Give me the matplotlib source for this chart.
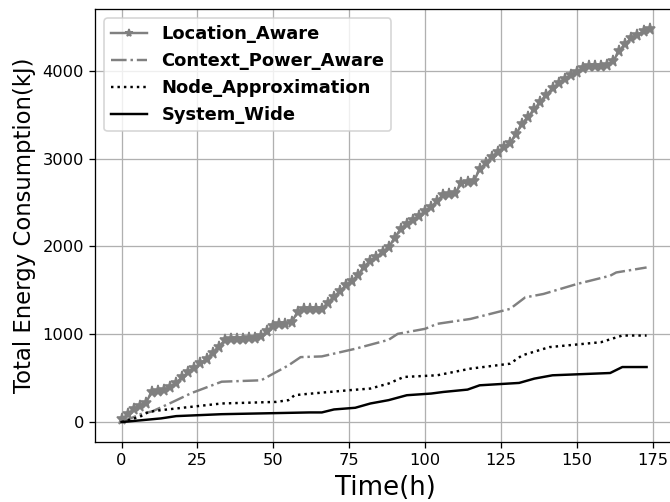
import numpy as np
import matplotlib.pyplot as plt

# Location_Aware, read every 2 hours
t_loc = np.arange(0, 176, 2)
e_loc = [30, 90, 150, 185, 220, 345, 350, 360, 400, 450,
         510, 570, 620, 670, 720, 790, 860, 930, 945, 950,
         950, 955, 960, 975, 1040, 1100, 1120, 1120, 1140, 1250,
         1290, 1290, 1290, 1290, 1360, 1430, 1490, 1560, 1610, 1680,
         1770, 1840, 1880, 1940, 1990, 2100, 2200, 2260, 2300, 2350,
         2400, 2450, 2520, 2590, 2600, 2610, 2720, 2730, 2740, 2880,
         2950, 3020, 3080, 3130, 3180, 3280, 3400, 3480, 3560, 3650,
         3730, 3800, 3860, 3910, 3950, 3990, 4030, 4050, 4060, 4060,
         4070, 4110, 4230, 4310, 4370, 4410, 4450, 4480]

# Context_Power_Aware
t_ctx = [0, 7, 10, 16, 23, 33, 46, 55, 59, 66, 77, 88, 91, 100, 104, 115, 128, 133, 139, 150, 161, 163, 173]
e_ctx = [0, 100, 120, 215, 330, 460, 476, 646, 740, 748, 835, 937, 1005, 1062, 1119, 1175, 1289, 1420, 1459, 1572, 1667, 1704, 1761]

# Node_Approximation
t_node = [0, 6, 9, 13, 33, 51, 55, 57, 60, 75, 82, 88, 93, 104, 115, 128, 132, 141, 158, 165, 173]
e_node = [0, 60, 117, 136, 212, 230, 250, 306, 317, 363, 382, 439, 514, 533, 609, 665, 760, 854, 910, 986, 986]

# System_Wide
t_sys = [0, 13, 18, 33, 62, 66, 70, 77, 82, 88, 94, 102, 106, 114, 118, 131, 136, 142, 161, 165, 173]
e_sys = [0, 42, 68, 90, 110, 110, 144, 163, 212, 250, 306, 325, 343, 370, 419, 446, 495, 533, 559, 627, 627]

fig = plt.figure(figsize=(670 / 117, 502 / 117), dpi=117)
ax = fig.add_axes([0.142, 0.12, 0.867, 0.862])

ax.plot(t_loc, e_loc, color='gray', marker='*', markersize=7, linewidth=1.5, label='Location_Aware')
ax.plot(t_ctx, e_ctx, color='gray', linestyle='-.', linewidth=1.5, label='Context_Power_Aware')
ax.plot(t_node, e_node, color='black', linestyle=':', linewidth=1.5, label='Node_Approximation')
ax.plot(t_sys, e_sys, color='black', linestyle='-', linewidth=1.5, label='System_Wide')

ax.set_xticks([0, 25, 50, 75, 100, 125, 150, 175])
ax.set_yticks([0, 1000, 2000, 3000, 4000])
ax.grid(True)
ax.set_xlabel('Time(h)', fontsize=16)
ax.set_ylabel('Total Energy Consumption(kJ)', fontsize=14)
leg = ax.legend(loc='upper left', prop={'weight': 'bold', 'size': 11})
leg.legend_handles[0].set_markersize(5)

fig.savefig('out.png', dpi=117)
